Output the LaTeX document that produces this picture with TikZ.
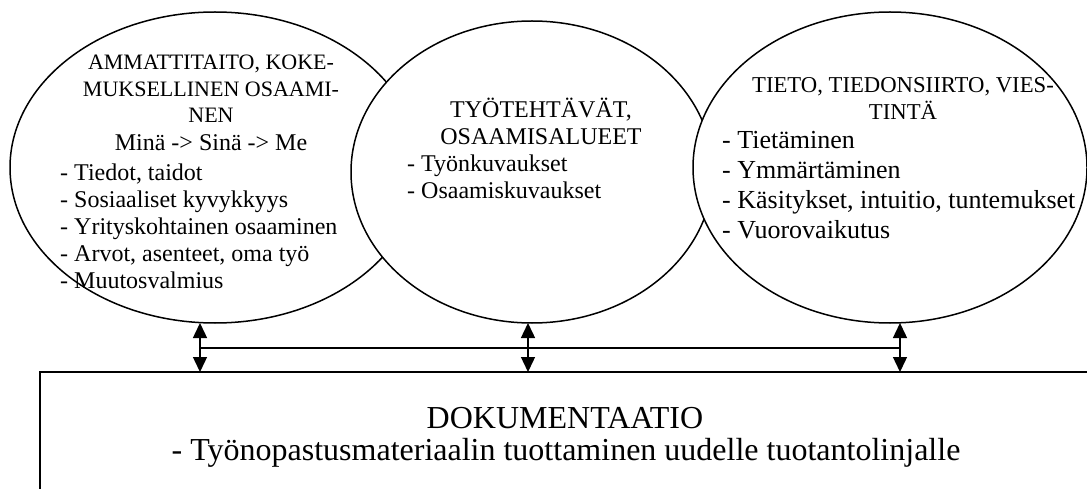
\documentclass[tikz,border=0pt]{standalone}
\usepackage{fontspec}
\setmainfont{Liberation Serif}
\usetikzlibrary{arrows.meta,shapes.geometric}
% font sizes (1pt = one unit of the picture)
\newcommand\fsHeadL{\fontsize{22}{26.5}\selectfont}
\newcommand\fsHeadM{\fontsize{24}{27}\selectfont}
\newcommand\fsHeadR{\fontsize{22.7}{27}\selectfont}
\newcommand\fsBody{\fontsize{24}{27}\selectfont}
\newcommand\fsBodyR{\fontsize{26}{30}\selectfont}
\newcommand\fsDoc{\fontsize{32}{37}\selectfont}
\begin{document}
\begin{tikzpicture}[x=1pt,y=-1pt,
  bubble/.style={shape=ellipse, draw, fill=white, line width=1.5pt, inner sep=0pt, outer sep=0pt},
  txt/.style={inner sep=0pt, align=center},
  listtxt/.style={inner sep=0pt, align=left, anchor=west},
  docbox/.style={draw, line width=1.6pt, anchor=north west, minimum width=1100pt,
                 minimum height=160pt, inner sep=0pt, outer sep=0pt},
  link/.style={line width=1.4pt},
  dblarrow/.style={line width=1.4pt,
                   {Triangle[width=14pt,length=15pt]}-{Triangle[width=14pt,length=15pt]}}]
\useasboundingbox (0,0) rectangle (1087,489);
\clip (0,0) rectangle (1087,489);

% the three overlapping bubbles
\node[bubble, minimum width=410pt, minimum height=311pt] (left) at (215,167.5) {};
\node[bubble, minimum width=362pt, minimum height=302pt] (mid) at (532,172) {};
\node[bubble, minimum width=394pt, minimum height=311pt] (right) at (890,167.5) {};

% documentation box
\node[docbox] (doc) at (40,372) {};

% texts of the left bubble
\node[txt, font=\fsHeadL] (lhead) at (211,89) {AMMATTITAITO, KOKE-\\MUKSELLINEN OSAAMI-\\NEN};
\node[txt, font=\fsBody] (lme) at (211,143) {Minä -> Sinä -> Me};
\node[listtxt, font=\fsBody] (llist) at (60,226) {- Tiedot, taidot\\- Sosiaaliset kyvykkyys\\- Yrityskohtainen osaaminen\\- Arvot, asenteet, oma työ\\- Muutosvalmius};

% texts of the middle bubble
\node[txt, font=\fsHeadM] (mhead) at (541,121) {TYÖTEHTÄVÄT,\\OSAAMISALUEET};
\node[listtxt, font=\fsBody] (mlist) at (407,176.5) {- Työnkuvaukset\\- Osaamiskuvaukset};

% texts of the right bubble
\node[txt, font=\fsHeadR] (rhead) at (903,98.5) {TIETO, TIEDONSIIRTO, VIES-\\TINTÄ};
\node[listtxt, font=\fsBodyR] (rlist) at (722,185) {- Tietäminen\\- Ymmärtäminen\\- Käsitykset, intuitio, tuntemukset\\- Vuorovaikutus};

% texts of the documentation box
\node[txt, font=\fsDoc] (dtitle) at (565,418) {DOKUMENTAATIO};
\node[txt, font=\fsDoc] (dsub) at (566,453) {- Työnopastusmateriaalin tuottaminen uudelle tuotantolinjalle};

% connectors
\coordinate (jl) at (200,348);
\coordinate (jm) at (528,348);
\coordinate (jr) at (900,348);
\draw[link] (jl) -- (jr);
\draw[dblarrow] (left.south -| jl) -- (doc.north -| jl);
\draw[dblarrow] (mid.south -| jm) -- (doc.north -| jm);
\draw[dblarrow] (right.south -| jr) -- (doc.north -| jr);
\end{tikzpicture}
\end{document}
